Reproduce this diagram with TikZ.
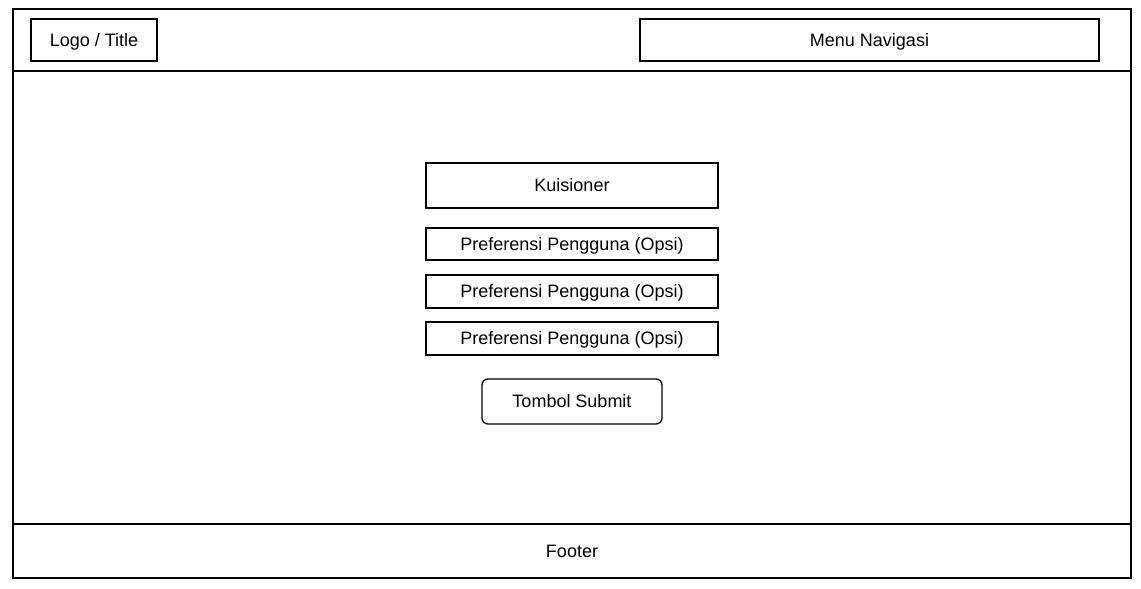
\documentclass[tikz,border=0pt]{standalone}
\usepackage{fontspec}
\setmainfont{Liberation Sans}
\tikzset{
  box/.style={draw, line width=1.3pt, inner sep=0pt, text height=13pt, text depth=1pt,
    font=\fontsize{18}{21}\selectfont},
  roundbox/.style={box, rounded corners=6pt}
}
\begin{document}
\begin{tikzpicture}[x=1pt,y=-1pt]
                \useasboundingbox (0,0) rectangle (1141,589);
                % frame of the page
                \draw [line width=1.3pt] (13,9) rectangle (1131,578);
                \node [box, minimum width=1118pt, minimum height=62pt] (header) at (572,40) {};
                \node [box, minimum width=1118pt, minimum height=54pt] (footer) at (572,551) {Footer};
                % header
                \node [box, minimum width=126pt, minimum height=42pt] (logo) at (94,40) {Logo / Title};
                \node [box, minimum width=459pt, minimum height=42pt] (menu) at (869.5,40) {Menu Navigasi};
                % form
                \node [box, minimum width=292pt, minimum height=45pt] (kuis) at (572,185.5) {Kuisioner};
                \node [box, minimum width=292pt, minimum height=32pt] (pref1) at (572,244) {Preferensi Pengguna (Opsi)};
                \node [box, minimum width=292pt, minimum height=33pt] (pref2) at (572,291.5) {Preferensi Pengguna (Opsi)};
                \node [box, minimum width=292pt, minimum height=33pt] (pref3) at (572,338.5) {Preferensi Pengguna (Opsi)};
                \node [roundbox, minimum width=180pt, minimum height=45pt] (submit) at (572,401.5) {Tombol Submit};
            \end{tikzpicture}
\end{document}
